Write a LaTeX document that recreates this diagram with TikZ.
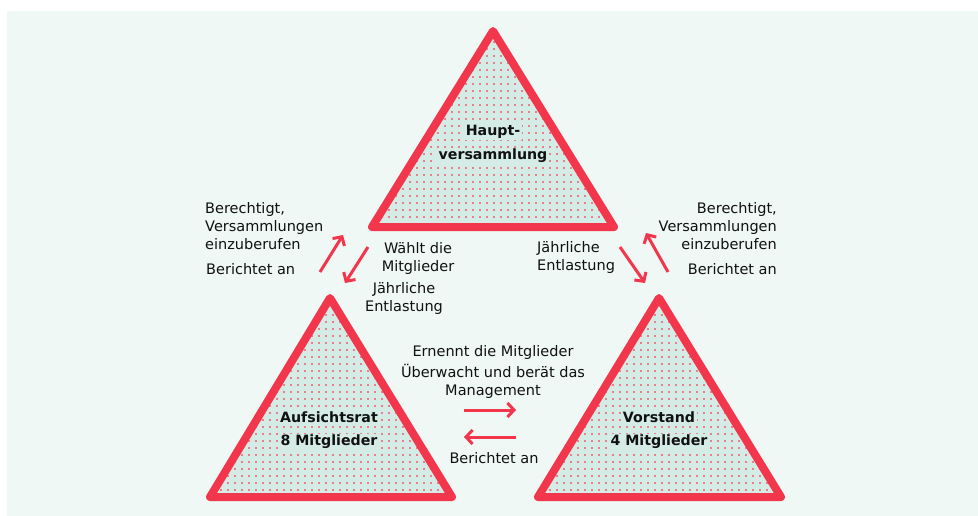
\documentclass[tikz,border=0pt]{standalone}
\usepackage{fontspec}
\setmainfont{DejaVu Sans}
\usetikzlibrary{arrows.meta}
\definecolor{bgc}{HTML}{EFF8F5}
\definecolor{mint}{HTML}{D5ECE6}
\definecolor{redc}{HTML}{F2364B}
\definecolor{dotc}{HTML}{EA7F8C}
\definecolor{txt}{HTML}{111111}
\begin{document}
\begin{tikzpicture}[x=1pt,y=-1pt,
  tri/.style={draw=redc,line width=8pt,line join=round},
  lab/.style={font=\fontsize{14.5}{18}\selectfont, text=txt, inner sep=0pt},
  blab/.style={font=\fontsize{14.2}{25}\selectfont\bfseries, text=txt, fill=mint, inner xsep=2pt, inner ysep=1pt},
  arr/.style={draw=redc,line width=3pt,-{Straight Barb[length=6.5pt,width=14pt]}}
]
\useasboundingbox (0,0) rectangle (978,516);
\fill[bgc] (7,11) rectangle (978,516);

% triangle corners
\coordinate (HA) at (493,31);  \coordinate (HL) at (372,227); \coordinate (HR) at (614,227);
\coordinate (AA) at (330,298); \coordinate (AL) at (210,497); \coordinate (AR) at (452,497);
\coordinate (VA) at (659,298); \coordinate (VL) at (538,497); \coordinate (VR) at (781,497);

% fills with dot pattern
\foreach \A/\L/\R/\ia/\ib/\ja/\jb in {HA/HL/HR/52/88/1/31, AA/AL/AR/29/65/39/70, VA/VL/VR/76/112/39/70}{
  \fill[mint] (\A) -- (\L) -- (\R) -- cycle;
  \begin{scope}
    \clip (\A) -- (\L) -- (\R) -- cycle;
    \foreach \i in {\ia,...,\ib}{
      \foreach \j in {\ja,...,\jb}{
        \fill[dotc] (3+\i*7, 20+\j*7) rectangle ++(2,2);
      }
    }
  \end{scope}
}
\foreach \A/\L/\R in {HA/HL/HR, AA/AL/AR, VA/VL/VR}{
  \draw[tri] (\A) -- (\L) -- (\R) -- cycle;
}

% triangle titles
\node[blab] (hv1) at (493,132) {Haupt-};
\node[blab] (hv2) at (493,156) {versammlung};
\node[blab] (ar1) at (329,417) {Aufsichtsrat};
\node[blab] (ar2) at (329,442) {8 Mitglieder};
\node[blab] (vs1) at (659,417) {Vorstand};
\node[blab] (vs2) at (659,442) {4 Mitglieder};

% left labels
\node[lab, anchor=west, align=left] (lberu) at (205,226) {Berechtigt,\\Versammlungen\\einzuberufen};
\node[lab, anchor=west] (lber) at (206,269) {Berichtet an};
\node[lab, align=center] (wahl) at (418,258) {Wählt die\\Mitglieder};
\node[lab, align=center] (lent) at (404,298) {Jährliche\\Entlastung};

% right labels
\node[lab, anchor=east, align=right] (rberu) at (777,226) {Berechtigt,\\Versammlungen\\einzuberufen};
\node[lab, anchor=east] (rber) at (777,269) {Berichtet an};
\node[lab, anchor=west, align=left] (rent) at (537,257) {Jährliche\\Entlastung};

% middle labels
\node[lab] (ern) at (493,352) {Ernennt die Mitglieder};
\node[lab, align=center] (ueb) at (493,381) {Überwacht und berät das\\Management};
\node[lab] (mber) at (494,458) {Berichtet an};

% arrow ends
\coordinate (l1s) at (320,272); \coordinate (l1e) at (343,235);
\coordinate (l2s) at (368,247); \coordinate (l2e) at (345,283);
\coordinate (r1s) at (620,247); \coordinate (r1e) at (645,283);
\coordinate (r2s) at (668,272); \coordinate (r2e) at (646,233);
\coordinate (m1s) at (464,410); \coordinate (m1e) at (516,410);
\coordinate (m2s) at (516,437); \coordinate (m2e) at (464,437);

\draw[arr] (l1s) -- (l1e);
\draw[arr] (l2s) -- (l2e);
\draw[arr] (r1s) -- (r1e);
\draw[arr] (r2s) -- (r2e);
\draw[arr] (m1s) -- (m1e);
\draw[arr] (m2s) -- (m2e);
\end{tikzpicture}
\end{document}
